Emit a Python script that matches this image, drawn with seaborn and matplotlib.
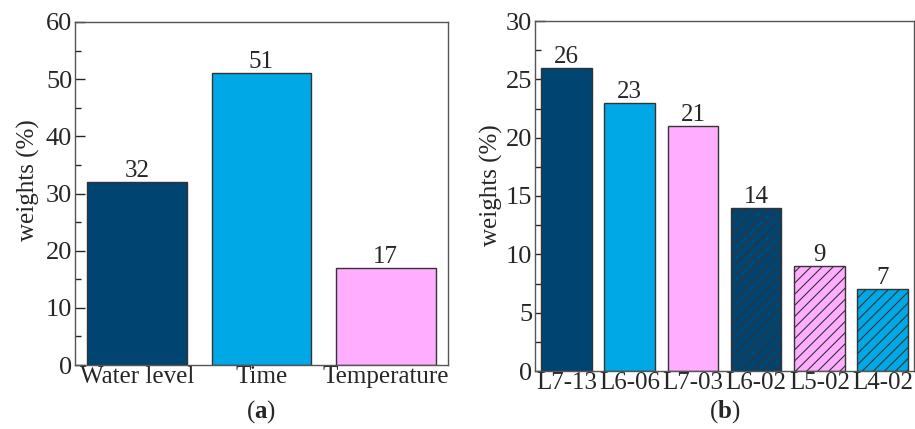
import numpy as np
import pandas as pd
import seaborn as sb
import matplotlib.pyplot as plt
from matplotlib.ticker import MultipleLocator

# date panou (a)
factori = ["Water level", "Time", "Temperature"]
ponderi_a = [32, 51, 17]
culori_a = ["#004472", "#00A9E6", "#FFAEFF"]

# date panou (b)
linii = ["L7-13", "L6-06", "L7-03", "L6-02", "L5-02", "L4-02"]
ponderi_b = [26, 23, 21, 14, 9, 7]
culori_b = ["#004472", "#00A9E6", "#FFAEFF", "#004472", "#FFAEFF", "#00A9E6"]
hasurat_b = [False, False, False, True, True, True]

sb.set_style("ticks")
plt.rcParams["font.family"] = ["Liberation Serif", "DejaVu Serif"]
plt.rcParams["mathtext.fontset"] = "custom"
plt.rcParams["mathtext.rm"] = "Liberation Serif"
plt.rcParams["mathtext.bf"] = "Liberation Serif:bold"
plt.rcParams["hatch.linewidth"] = 0.8
plt.rcParams["hatch.color"] = "black"

FS = 18

fig = plt.figure(figsize=(9.15, 4.29), dpi=100)
ax1 = fig.add_axes([75 / 915, 1 - 365 / 429, 373 / 915, 343 / 429])
ax2 = fig.add_axes([535 / 915, 1 - 371 / 429, 379 / 915, 350 / 429])

df_a = pd.DataFrame({"factor": factori, "w": ponderi_a})
df_b = pd.DataFrame({"linie": linii, "w": ponderi_b})

sb.barplot(data=df_a, x="factor", y="w", hue="factor", palette=culori_a,
           saturation=1, legend=False, width=0.8, edgecolor="#333333",
           linewidth=1.0, ax=ax1)
sb.barplot(data=df_b, x="linie", y="w", hue="linie", palette=culori_b,
           saturation=1, legend=False, width=0.8, edgecolor="#333333",
           linewidth=1.0, ax=ax2)

for patch, h in zip(ax2.patches, hasurat_b):
    if h:
        patch.set_hatch("///")

def formatare(ax, ymax, major, etic, lx, ly):
    ax.set_ylim(0, ymax)
    ax.set_xlim(-0.5, len(ax.patches) - 0.5)
    ax.yaxis.set_major_locator(MultipleLocator(major))
    ax.yaxis.set_minor_locator(MultipleLocator(major / 2))
    ax.tick_params(axis="y", which="major", direction="in", length=7, width=1,
                   labelsize=19, pad=2)
    ax.tick_params(axis="y", which="minor", direction="in", length=4, width=1)
    ax.tick_params(axis="x", length=0, labelsize=FS, pad=1)
    ax.set_xlabel("")
    ax.set_ylabel("weights (%)", fontsize=FS)
    ax.yaxis.set_label_coords(lx, ly)
    for s in ax.spines.values():
        s.set_visible(True)
        s.set_color("#555555")
        s.set_linewidth(1.0)
    for patch, v in zip(ax.patches, etic):
        ax.text(patch.get_x() + patch.get_width() / 2, v, str(v),
                ha="center", va="bottom", fontsize=FS)

formatare(ax1, 60, 10, ponderi_a, -0.094, 0.54)
formatare(ax2, 30, 5, ponderi_b, -0.084, 0.53)

fig.text((75 + 448) / 2 / 915, 1 - 412 / 429, r"($\mathbf{a}$)", ha="center",
         va="center", fontsize=FS)
fig.text((535 + 914) / 2 / 915, 1 - 412 / 429, r"($\mathbf{b}$)", ha="center",
         va="center", fontsize=FS)

plt.savefig("out.png", dpi=100)
